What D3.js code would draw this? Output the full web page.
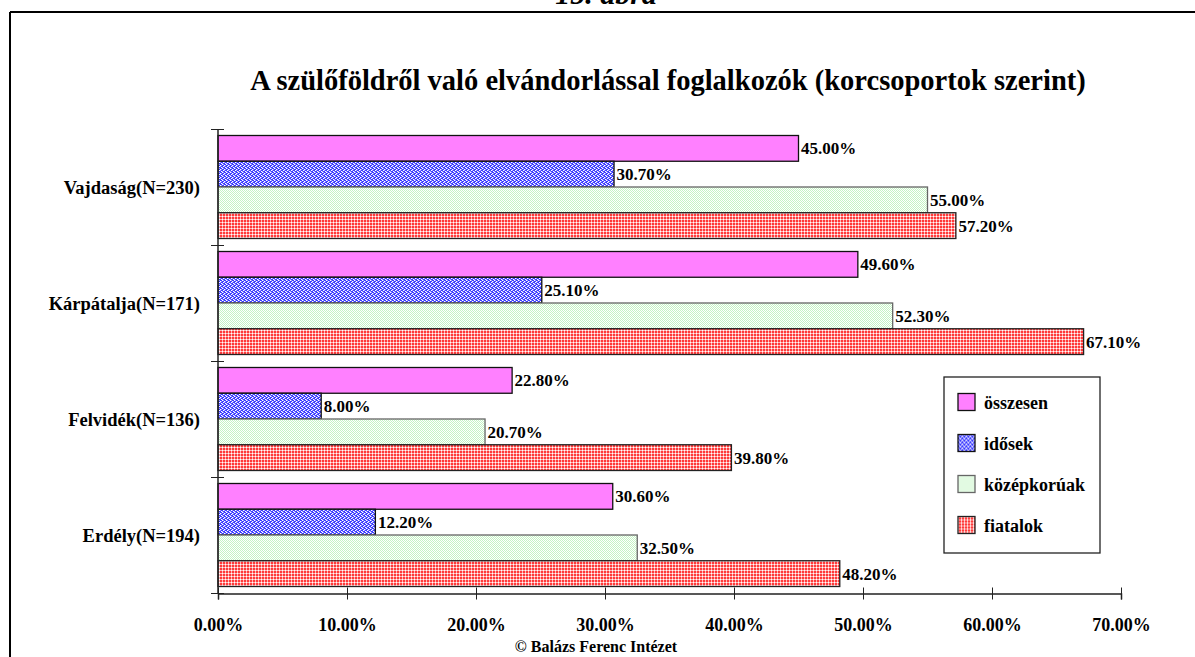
<!DOCTYPE html>
<html>
<head>
<meta charset="utf-8">
<script src="https://cdn.jsdelivr.net/npm/d3@7"></script>
<style>
  body { margin: 0; background: #fff; }
  text { font-family: "Liberation Serif", "Times New Roman", serif; font-weight: bold; fill: #000; }
</style>
</head>
<body>
<div id="chartDiv"></div>
<script>
var width = 1195, height = 657;

var regions = ["Vajdaság(N=230)", "Kárpátalja(N=171)", "Felvidék(N=136)", "Erdély(N=194)"];
var groups = ["összesen", "idősek", "középkorúak", "fiatalok"];
var osszesen = [45.0, 49.6, 22.8, 30.6];
var idosek = [30.7, 25.1, 8.0, 12.2];
var kozepkoruak = [55.0, 52.3, 20.7, 32.5];
var fiatalok = [57.2, 67.1, 39.8, 48.2];
var xTicks = [0, 10, 20, 30, 40, 50, 60, 70];

var seriesVals = [osszesen, idosek, kozepkoruak, fiatalok];
var fills = ["#ff80ff", "url(#patBlue)", "url(#patGreen)", "url(#patRed)"];
var strokes = ["#111", "#111", "#666", "#222"];

var svg = d3.select("#chartDiv").append("svg")
    .attr("width", width)
    .attr("height", height);

// fill patterns
var defs = svg.append("defs");
function pixels(pat, pts, color) {
  pts.forEach(function(p) {
    pat.append("rect").attr("x", p[0]).attr("y", p[1]).attr("width", 1).attr("height", 1)
      .attr("fill", color).attr("shape-rendering", "crispEdges");
  });
}
var pb = defs.append("pattern").attr("id", "patBlue").attr("patternUnits", "userSpaceOnUse")
    .attr("width", 4).attr("height", 4);
pb.append("rect").attr("width", 4).attr("height", 4).attr("fill", "#ffffff");
pixels(pb, [[0,0],[1,0],[2,1],[3,1],[1,2],[2,2],[3,3],[0,3]], "#3a3aff");
pixels(pb, [[3,0],[1,1],[0,2],[2,3]], "#a0a0ff");

var pg = defs.append("pattern").attr("id", "patGreen").attr("patternUnits", "userSpaceOnUse")
    .attr("width", 2).attr("height", 2);
pg.append("rect").attr("width", 2).attr("height", 2).attr("fill", "#ffffff");
pixels(pg, [[0,0],[1,1]], "#c4f4c4");

var pr = defs.append("pattern").attr("id", "patRed").attr("patternUnits", "userSpaceOnUse")
    .attr("width", 3).attr("height", 3);
pr.append("rect").attr("width", 3).attr("height", 3).attr("fill", "#ff3a3a");
pixels(pr, [[0,1],[0,2],[1,0],[2,0]], "#ffb4b4");
pixels(pr, [[0,0]], "#ffffff");

// frame
svg.append("line").attr("x1", 10).attr("x2", width).attr("y1", 12).attr("y2", 12)
   .attr("stroke", "#000").attr("stroke-width", 2);
svg.append("line").attr("x1", 10).attr("x2", 10).attr("y1", 12).attr("y2", height)
   .attr("stroke", "#000").attr("stroke-width", 2);

svg.append("text").attr("x", 606).attr("y", 4).attr("text-anchor", "middle")
   .style("font-size", "30px").style("font-style", "italic").text("15. ábra");

svg.append("text").attr("x", 668).attr("y", 90).attr("text-anchor", "middle")
   .style("font-size", "28.5px")
   .text("A szülőföldről való elvándorlással foglalkozók (korcsoportok szerint)");

var x = d3.scaleLinear().domain([0, 70]).range([218, 1121]);
var y = d3.scaleBand().domain(regions).range([129.5, 593.5]);
var ySub = d3.scaleBand().domain(groups).range([6, y.bandwidth() - 7]);

// bars
var bars = svg.append("g");
regions.forEach(function(r, ri) {
  groups.forEach(function(g, gi) {
    var v = seriesVals[gi][ri];
    bars.append("rect")
      .attr("x", x(0))
      .attr("y", y(r) + ySub(g))
      .attr("width", x(v) - x(0))
      .attr("height", ySub.bandwidth())
      .attr("fill", fills[gi])
      .attr("stroke", strokes[gi])
      .attr("stroke-width", 1.3);
    bars.append("text")
      .attr("x", x(v) + 2.5)
      .attr("y", y(r) + ySub(g) + ySub.bandwidth() / 2 + 6)
      .style("font-size", "17px")
      .text(v.toFixed(2) + "%");
  });
});

// x axis
var xAxis = d3.axisBottom(x).tickValues(xTicks)
    .tickFormat(function(d) { return d.toFixed(2) + "%"; });
var gx = svg.append("g").attr("transform", "translate(0,593.5)").call(xAxis);
gx.select(".domain").attr("stroke", "#222").attr("stroke-width", 1.5);
gx.selectAll(".tick line").attr("y1", -6).attr("y2", 6).attr("stroke", "#222");
gx.selectAll(".tick text").attr("y", 37).attr("dy", null)
  .style("font-size", "18px").style("font-family", null);

// y axis
var yAxis = d3.axisLeft(y).tickSize(0).tickPadding(18);
var gy = svg.append("g").attr("transform", "translate(218,0)").call(yAxis);
gy.select(".domain").remove();
gy.selectAll(".tick text").style("font-size", "18.5px").style("font-family", null).attr("dy", "0.35em");
gy.append("line").attr("x1", 0).attr("x2", 0)
  .attr("y1", y.range()[0]).attr("y2", y.range()[1])
  .attr("stroke", "#222").attr("stroke-width", 1.5);
gy.selectAll(".sep").data(d3.range(regions.length + 1)).enter().append("line")
  .attr("x1", -7).attr("x2", 6)
  .attr("y1", function(i) { return y.range()[0] + i * y.step(); })
  .attr("y2", function(i) { return y.range()[0] + i * y.step(); })
  .attr("stroke", "#222");

// legend
var legend = svg.append("g").attr("transform", "translate(944,377)");
legend.append("rect").attr("width", 156).attr("height", 176)
  .attr("fill", "#fff").attr("stroke", "#222").attr("stroke-width", 1.3);
var li = legend.selectAll(".li").data(groups).enter().append("g")
  .attr("transform", function(d, i) { return "translate(14," + (16.5 + i * 41) + ")"; });
li.append("rect").attr("width", 17).attr("height", 17)
  .attr("fill", function(d, i) { return fills[i]; })
  .attr("stroke", function(d, i) { return strokes[i]; }).attr("stroke-width", 1.3);
li.append("text").attr("x", 26).attr("y", 15).style("font-size", "18px")
  .text(function(d) { return d; });

svg.append("text").attr("x", 596).attr("y", 652).attr("text-anchor", "middle")
   .style("font-size", "16px").text("© Balázs Ferenc Intézet");
</script>
</body>
</html>
